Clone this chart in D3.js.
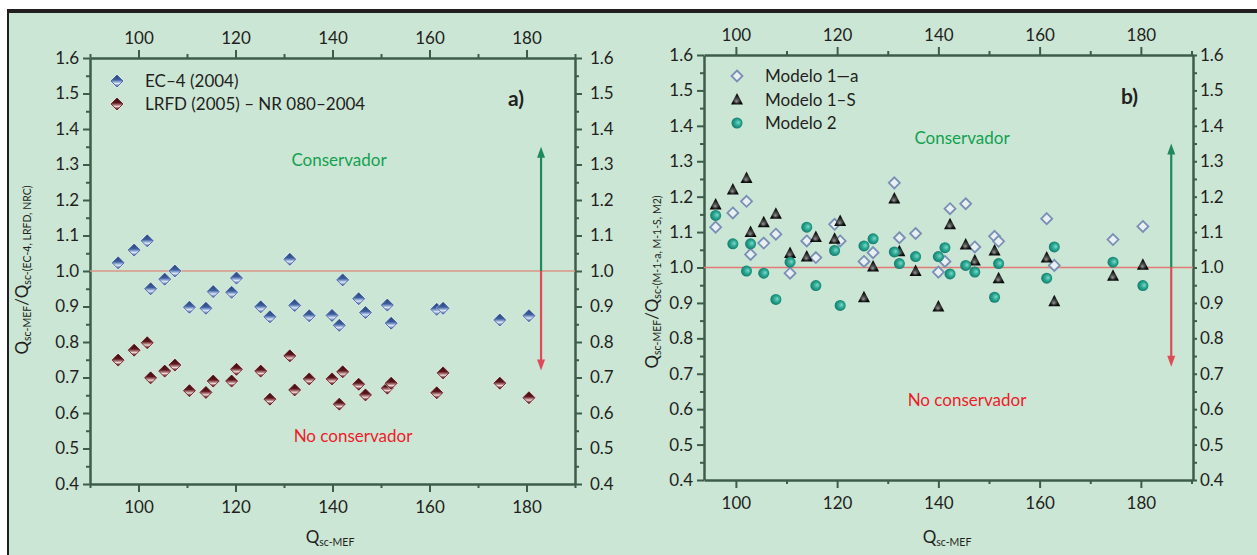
<!DOCTYPE html>
<html>
<head>
<meta charset="utf-8">
<script src="https://cdn.jsdelivr.net/npm/d3@7"></script>
<style>
  html, body { margin: 0; padding: 0; background: #ffffff; }
  svg { display: block; font-family: Lato, "Open Sans", sans-serif; }
</style>
</head>
<body>
<svg id="chart" width="1257" height="555"></svg>
<script>
// ---- data -------------------------------------------------------------
// Panel a) – FEM shear capacity vs. ratio to code predictions
const qMefA = [95.8, 99.1, 101.8, 102.5, 105.4, 107.5, 110.5, 113.9, 115.4, 119.2, 120.2, 125.2, 127.1, 131.2,
               132.2, 135.2, 139.9, 141.4, 142.1, 145.4, 146.8, 151.3, 152.1, 161.5, 162.8, 174.5, 180.5];
const ratioEC4 = [1.023, 1.059, 1.085, 0.950, 0.977, 1.000, 0.898, 0.895, 0.942, 0.940, 0.980, 0.899, 0.871, 1.033,
                  0.903, 0.874, 0.875, 0.847, 0.975, 0.922, 0.883, 0.904, 0.853, 0.892, 0.895, 0.862, 0.874];
const ratioLRFD = [0.749, 0.777, 0.798, 0.699, 0.718, 0.735, 0.663, 0.658, 0.690, 0.690, 0.723, 0.718, 0.639, 0.761,
                   0.665, 0.696, 0.696, 0.625, 0.716, 0.681, 0.651, 0.670, 0.684, 0.657, 0.713, 0.684, 0.643];

// Panel b) – FEM shear capacity vs. ratio to the proposed models
const qMefB = [96.0, 99.4, 102.1, 102.9, 105.5, 107.9, 110.7, 114.0, 115.8, 119.5, 120.6, 125.3, 127.1, 131.3,
               132.3, 135.5, 140.0, 141.3, 142.3, 145.4, 147.2, 151.1, 151.9, 161.4, 162.9, 174.5, 180.4];
const ratioM1a = [1.114, 1.154, 1.187, 1.037, 1.069, 1.094, 0.984, 1.075, 1.028, 1.122, 1.075, 1.017, 1.042, 1.239,
                  1.084, 1.096, 0.987, 1.017, 1.166, 1.180, 1.058, 1.088, 1.074, 1.138, 1.006, 1.079, 1.116];
const ratioM1S = [1.178, 1.220, 1.253, 1.100, 1.128, 1.152, 1.041, 1.031, 1.086, 1.081, 1.131, 0.916, 1.003, 1.195,
                  1.046, 0.990, 0.890, null, 1.122, 1.065, 1.020, 1.048, 0.970, 1.028, 0.905, 0.977, 1.008];
const ratioM2 = [1.147, 1.067, 0.990, 1.067, 0.984, 0.910, 1.015, 1.114, 0.949, 1.048, 0.893, 1.061, 1.081, 1.044,
                 1.011, 1.031, 1.031, 1.056, 0.982, 1.006, 0.987, 0.916, 1.011, 0.970, 1.058, 1.015, 0.949];

const xTicks = [100, 120, 140, 160, 180];
const yTicks = [0.4, 0.5, 0.6, 0.7, 0.8, 0.9, 1.0, 1.1, 1.2, 1.3, 1.4, 1.5, 1.6];
const legendA = ["EC\u20134 (2004)", "LRFD (2005) \u2013 NR 080\u20132004"];
const legendB = ["Modelo 1\u2014a", "Modelo 1\u2013S", "Modelo 2"];

// ---- drawing ----------------------------------------------------------
const svg = d3.select("#chart");
const AXIS = "#3e5c4a";
const TXT = "#231f20";

svg.append("rect").attr("width", 1257).attr("height", 555).attr("fill", "#ffffff");
svg.append("rect").attr("x", 7).attr("y", 9).attr("width", 1250).attr("height", 546).attr("fill", "#cce6d5");
svg.append("rect").attr("x", 7).attr("y", 9).attr("width", 1250).attr("height", 4).attr("fill", "#231f20");
svg.append("rect").attr("x", 7).attr("y", 9).attr("width", 2).attr("height", 546).attr("fill", "#231f20");

// gradients for the shaded markers
const defs = svg.append("defs");
function linGrad(id, stops) {
  const g = defs.append("linearGradient").attr("id", id)
    .attr("x1", 0).attr("y1", 0).attr("x2", 0).attr("y2", 1);
  stops.forEach(([o, c]) => g.append("stop").attr("offset", o).attr("stop-color", c));
}
function radGrad(id, fx, fy, stops) {
  const g = defs.append("radialGradient").attr("id", id)
    .attr("cx", 0.5).attr("cy", 0.5).attr("r", 0.6).attr("fx", fx).attr("fy", fy);
  stops.forEach(([o, c]) => g.append("stop").attr("offset", o).attr("stop-color", c));
}
linGrad("gBlue", [[0, "#26437c"], [0.4, "#3d5e9f"], [0.6, "#9fb6de"], [0.7, "#dfe7f4"], [0.85, "#7f98cc"], [1, "#3d5b99"]]);
linGrad("gRed", [[0, "#3a0a0e"], [0.4, "#5e161b"], [0.6, "#b88587"], [0.7, "#eed8d8"], [0.85, "#93494d"], [1, "#4e1216"]]);
radGrad("gTri", 0.45, 0.75, [[0, "#9a9a9a"], [0.3, "#4a4a4a"], [0.6, "#141414"], [1, "#050505"]]);
radGrad("gTeal", 0.65, 0.45, [[0, "#7fd8c6"], [0.45, "#2aa893"], [1, "#0b6c5e"]]);

const diamondPath = (w, h) => `M0,${-h}L${w},0L0,${h}L${-w},0Z`;

function marker(g, kind, x, y) {
  const m = g.append("g").attr("transform", `translate(${x},${y})`);
  if (kind === "ec4") {
    m.append("path").attr("d", diamondPath(7.5, 7.5)).attr("fill", "#e3ecf5").attr("opacity", 0.5);
    m.append("path").attr("d", diamondPath(6, 6)).attr("fill", "url(#gBlue)")
      .attr("stroke", "#3a5896").attr("stroke-width", 0.8);
  } else if (kind === "lrfd") {
    m.append("path").attr("d", diamondPath(7.5, 7.5)).attr("fill", "#f1e4e2").attr("opacity", 0.5);
    m.append("path").attr("d", diamondPath(6, 6)).attr("fill", "url(#gRed)")
      .attr("stroke", "#561419").attr("stroke-width", 0.8);
  } else if (kind === "m1a") {
    m.append("path").attr("d", diamondPath(5.5, 5.5)).attr("fill", "#e8f0f1")
      .attr("stroke", "#7a8fb6").attr("stroke-width", 1.8);
  } else if (kind === "m1s") {
    m.append("path").attr("d", "M0,-6.5L6,5L-6,5Z").attr("fill", "url(#gTri)");
  } else if (kind === "m2") {
    m.append("circle").attr("r", 5.5).attr("fill", "url(#gTeal)");
  }
}

function subText(g, x, y, parts, opts = {}) {
  const t = g.append("text").attr("x", x).attr("y", y)
    .attr("fill", TXT).attr("font-size", opts.size || 17)
    .attr("text-anchor", opts.anchor || "middle");
  if (opts.rotate) t.attr("transform", `rotate(-90,${x},${y})`);
  parts.forEach(([s, sub]) => {
    const sp = t.append("tspan").text(s);
    if (sub) sp.attr("font-size", opts.subSize || 10.5).attr("baseline-shift", "-25%");
  });
  return t;
}

function panel(cfg) {
  const g = svg.append("g");
  const x = d3.scaleLinear().domain(cfg.xDomain).range(cfg.xRange);
  const y = d3.scaleLinear().domain([0.4, 1.6]).range(cfg.yRange);
  const [x0, x1] = cfg.xRange, [y0, y1] = cfg.yRange;

  // axes: major ticks with labels, minor ticks without
  const xMinor = d3.range(Math.ceil(cfg.xDomain[0] / 10) * 10, cfg.xDomain[1] + 0.1, 10).filter(v => v % 20 !== 0);
  const yMinor = d3.range(0.45, 1.6, 0.1).map(v => +v.toFixed(2));

  function styleAxis(sel) {
    sel.select(".domain").attr("stroke", AXIS).attr("stroke-width", 2.5);
    sel.selectAll(".tick line").attr("stroke", AXIS).attr("stroke-width", 2);
    sel.selectAll(".tick text").attr("fill", TXT).attr("font-size", 17)
      .attr("font-family", "Lato, 'Open Sans', sans-serif");
  }
  const fmt = d3.format(".1f");
  const minorStyle = s => { s.select(".domain").remove(); s.selectAll("line").attr("stroke", AXIS).attr("stroke-width", 2); };

  const bottom = g.append("g").attr("transform", `translate(0,${y0})`)
    .call(d3.axisBottom(x).tickValues(xTicks).tickSize(8).tickPadding(9).tickSizeOuter(0));
  styleAxis(bottom);
  g.append("g").attr("transform", `translate(0,${y0})`)
    .call(d3.axisBottom(x).tickValues(xMinor).tickSize(4).tickFormat("").tickSizeOuter(0)).call(minorStyle);

  const top = g.append("g").attr("transform", `translate(0,${y1})`)
    .call(d3.axisTop(x).tickValues(xTicks).tickSize(8).tickPadding(6).tickSizeOuter(0));
  styleAxis(top);
  g.append("g").attr("transform", `translate(0,${y1})`)
    .call(d3.axisTop(x).tickValues(xMinor).tickSize(4).tickFormat("").tickSizeOuter(0)).call(minorStyle);

  const left = g.append("g").attr("transform", `translate(${x0},0)`)
    .call(d3.axisLeft(y).tickValues(yTicks).tickFormat(fmt).tickSize(7).tickPadding(cfg.leftPad).tickSizeOuter(0));
  styleAxis(left);
  g.append("g").attr("transform", `translate(${x0},0)`)
    .call(d3.axisLeft(y).tickValues(yMinor).tickSize(4).tickFormat("").tickSizeOuter(0)).call(minorStyle);

  const right = g.append("g").attr("transform", `translate(${x1},0)`)
    .call(d3.axisRight(y).tickValues(yTicks).tickFormat(fmt).tickSize(cfg.rightTick).tickPadding(cfg.rightPad).tickSizeOuter(0));
  styleAxis(right);
  g.append("g").attr("transform", `translate(${x1},0)`)
    .call(d3.axisRight(y).tickValues(yMinor).tickSize(4).tickFormat("").tickSizeOuter(0)).call(minorStyle);

  // reference line at ratio = 1.0
  g.append("line").attr("x1", x0).attr("x2", x1).attr("y1", y(1)).attr("y2", y(1))
    .attr("stroke", cfg.refColor).attr("stroke-width", 1.6);

  // conservative / non‑conservative arrows
  const ax = x(cfg.arrowX);
  g.append("line").attr("x1", ax).attr("x2", ax).attr("y1", y(1)).attr("y2", y(1.35) + 8)
    .attr("stroke", "#1e8a5c").attr("stroke-width", 2.2);
  g.append("path").attr("d", `M${ax},${y(1.35)}L${ax - 4},${y(1.35) + 11}L${ax + 4},${y(1.35) + 11}Z`).attr("fill", "#1e8a5c");
  g.append("line").attr("x1", ax).attr("x2", ax).attr("y1", y(1)).attr("y2", y(0.72) - 8)
    .attr("stroke", "#de4a55").attr("stroke-width", 2.2);
  g.append("path").attr("d", `M${ax},${y(0.72)}L${ax - 4},${y(0.72) - 11}L${ax + 4},${y(0.72) - 11}Z`).attr("fill", "#de4a55");

  // region labels
  g.append("text").attr("x", cfg.consPos[0]).attr("y", cfg.consPos[1]).attr("text-anchor", "middle")
    .attr("fill", "#12a150").attr("font-size", 17).text("Conservador");
  g.append("text").attr("x", cfg.noConsPos[0]).attr("y", cfg.noConsPos[1]).attr("text-anchor", "middle")
    .attr("fill", "#ec1c2a").attr("font-size", 17).text("No conservador");
  g.append("text").attr("x", cfg.tagPos[0]).attr("y", cfg.tagPos[1]).attr("fill", TXT)
    .attr("font-size", 21).attr("font-weight", 700).text(cfg.tag);

  // data points
  cfg.series.forEach(s => {
    const pts = cfg.xs.map((v, i) => [v, s.values[i]]).filter(d => d[1] != null);
    const sg = g.append("g");
    pts.forEach(([vx, vy]) => marker(sg, s.kind, x(vx), y(vy)));
  });

  // legend
  cfg.series.forEach((s, i) => {
    const ly = cfg.legendPos[1] + i * cfg.legendStep;
    marker(g, s.kind, cfg.legendPos[0], ly);
    g.append("text").attr("x", cfg.legendPos[0] + 28).attr("y", ly + 6).attr("fill", TXT)
      .attr("font-size", 17).text(s.label);
  });

  // axis titles
  subText(g, cfg.xTitlePos[0], cfg.xTitlePos[1], [["Q"], ["sc-MEF", true]]);
  subText(g, cfg.yTitlePos[0], cfg.yTitlePos[1], cfg.yTitle, { rotate: true, size: 17, subSize: 10.5 });
}

panel({
  xDomain: [90, 190], xRange: [90, 575], yRange: [484, 58],
  leftPad: 4, rightTick: 7, rightPad: 8,
  xs: qMefA,
  series: [
    { kind: "ec4", values: ratioEC4, label: legendA[0] },
    { kind: "lrfd", values: ratioLRFD, label: legendA[1] }
  ],
  legendPos: [117, 81], legendStep: 23,
  refColor: "#d99683", arrowX: 183,
  consPos: [339, 166], noConsPos: [353, 442], tagPos: [508, 106], tag: "a)",
  xTitlePos: [330, 543],
  yTitlePos: [28, 270],
  yTitle: [["Q"], ["sc-MEF", true], ["/Q"], ["sc-(EC-4, LRFD, NRC)", true]]
});

panel({
  xDomain: [93.7, 190.3], xRange: [704, 1193], yRange: [480, 55],
  leftPad: 4, rightTick: 4, rightPad: 3,
  xs: qMefB,
  series: [
    { kind: "m1a", values: ratioM1a, label: legendB[0] },
    { kind: "m1s", values: ratioM1S, label: legendB[1] },
    { kind: "m2", values: ratioM2, label: legendB[2] }
  ],
  legendPos: [737, 76], legendStep: 23.5,
  refColor: "#e27a76", arrowX: 186,
  consPos: [962, 144], noConsPos: [967, 406], tagPos: [1121, 104], tag: "b)",
  xTitlePos: [947, 543],
  yTitlePos: [658, 282],
  yTitle: [["Q"], ["sc-MEF", true], ["/Q"], ["sc-(M-1-a, M-1-S, M2)", true]]
});
</script>
</body>
</html>
